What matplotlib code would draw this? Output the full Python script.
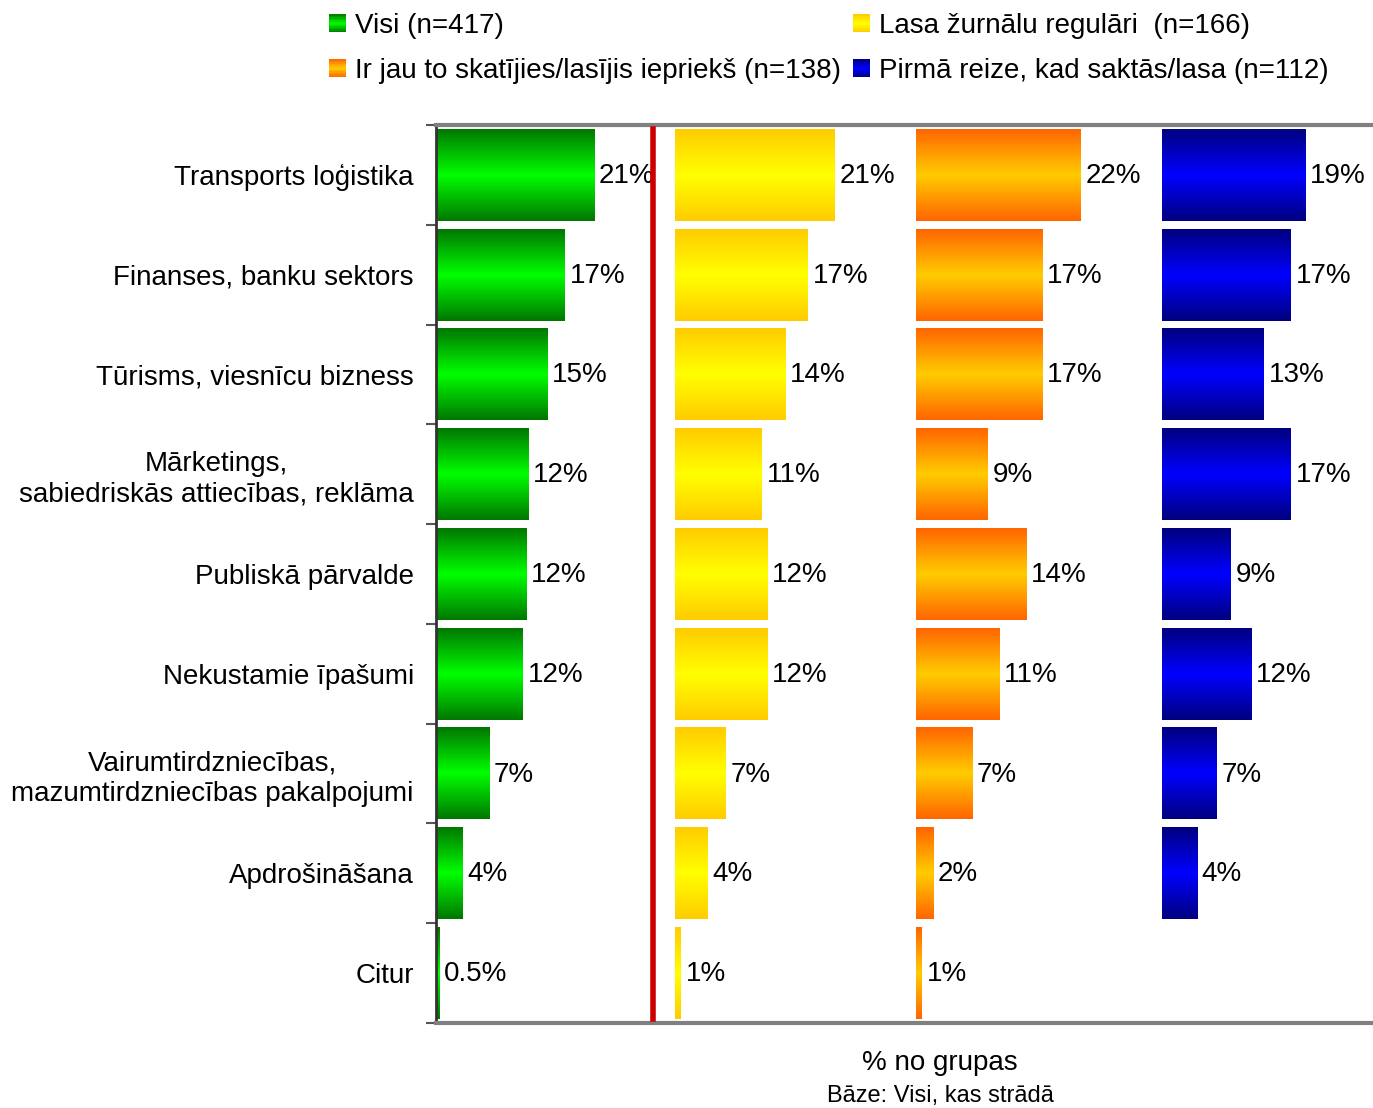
import matplotlib.pyplot as plt
import matplotlib.colors as mcolors
from matplotlib.patches import Patch, Rectangle
from matplotlib.legend_handler import HandlerBase
import numpy as np

plt.rcParams['font.family'] = ['Liberation Sans', 'DejaVu Sans']

# dati
kategorijas = ["Transports loģistika",
               "Finanses, banku sektors",
               "Tūrisms, viesnīcu bizness",
               "Mārketings,\nsabiedriskās attiecības, reklāma",
               "Publiskā pārvalde",
               "Nekustamie īpašumi",
               "Vairumtirdzniecības,\nmazumtirdzniecības pakalpojumi",
               "Apdrošināšana",
               "Citur"]

grupas = ["Visi (n=417)",
          "Lasa žurnālu regulāri  (n=166)",
          "Ir jau to skatījies/lasījis iepriekš (n=138)",
          "Pirmā reize, kad saktās/lasa (n=112)"]

visi = [21.1, 17.2, 14.9, 12.3, 12.1, 11.6, 7.1, 3.6, 0.5]
lasa = [21.3, 17.7, 14.7, 11.6, 12.3, 12.3, 6.8, 4.4, 0.8]
ir_jau = [22.0, 16.9, 16.9, 9.6, 14.7, 11.1, 7.5, 2.3, 0.8]
pirma = [19.1, 17.2, 13.6, 17.2, 9.2, 11.9, 7.3, 4.7, np.nan]

visi_txt = ["21%", "17%", "15%", "12%", "12%", "12%", "7%", "4%", "0.5%"]
lasa_txt = ["21%", "17%", "14%", "11%", "12%", "12%", "7%", "4%", "1%"]
ir_jau_txt = ["22%", "17%", "17%", "9%", "14%", "11%", "7%", "2%", "1%"]
pirma_txt = ["19%", "17%", "13%", "17%", "9%", "12%", "7%", "4%", ""]

serijas = [visi, lasa, ir_jau, pirma]
teksti = [visi_txt, lasa_txt, ir_jau_txt, pirma_txt]

# krāsas: mala, vidus
krasas = [("#007800", "#00FF00"),
          ("#FFCC00", "#FFFF00"),
          ("#FF6600", "#FFCC00"),
          ("#000080", "#0000FF")]
nobides = [0, 31.9, 64, 96.8]
FS = 20

cmaps = [mcolors.LinearSegmentedColormap.from_list("g%d" % i, [a, b, a])
         for i, (a, b) in enumerate(krasas)]

fig = plt.figure(figsize=(13.73, 11.08), dpi=100)
ax = fig.add_axes([436/1373, 1-1023/1108, 1-436/1373, (1023-125)/1108])

y = np.arange(len(kategorijas))
grad = np.linspace(0, 1, 100).reshape(-1, 1)

for s, vals in enumerate(serijas):
    bars = ax.barh(y, vals, height=0.92, left=nobides[s], color='none')
    for b, txt in zip(bars, teksti[s]):
        w = b.get_width()
        if np.isnan(w):
            continue
        x0, y0 = b.get_x(), b.get_y()
        h = b.get_height()
        ax.imshow(grad, cmap=cmaps[s], aspect='auto', interpolation='bicubic',
                  extent=(x0, x0 + w, y0 + h, y0), zorder=2)
        ax.text(x0 + w + 0.6, y0 + h/2 + 0.01, txt, va='center', ha='left', fontsize=FS)

# sarkanā līnija
ax.axvline(28.9, ymin=0.004, ymax=0.996, color='#CC0000', lw=4, zorder=3)

ax.set_xlim(0, 937/7.5)
ax.set_ylim(8.5, -0.5)
ax.set_yticks(y)
ax.set_yticklabels(kategorijas, fontsize=FS, multialignment='center')
ax.set_yticks(np.arange(-0.5, 9, 1), minor=True)
ax.tick_params(axis='y', which='major', length=0, pad=16)
ax.tick_params(axis='y', which='minor', length=7, width=1.5, color='#555555', direction='out')
ax.set_xticks([])

for sp in ['top', 'bottom']:
    ax.spines[sp].set_color('#808080')
    ax.spines[sp].set_linewidth(3)
ax.spines['left'].set_color('#333333')
ax.spines['left'].set_linewidth(2)
ax.spines['right'].set_visible(False)


class GradHandler(HandlerBase):
    def __init__(self, cmap):
        super().__init__()
        self.cmap = cmap

    def create_artists(self, legend, orig_handle, xdescent, ydescent,
                       width, height, fontsize, trans):
        n = 12
        out = []
        for k in range(n):
            r = Rectangle((-xdescent, -ydescent + k*height/n), width, height/n + 0.3,
                          facecolor=self.cmap((k + 0.5)/n), lw=0, transform=trans)
            out.append(r)
        return out


handles = [Patch(label=g) for g in grupas]
hmap = {h: GradHandler(c) for h, c in zip(handles, cmaps)}
order = [0, 2, 1, 3]
fig.legend([handles[i] for i in order], [grupas[i] for i in order],
           handler_map=hmap, ncol=2, loc='upper left',
           bbox_to_anchor=(329/1373, 1 - 13/1108), frameon=False,
           fontsize=FS, handlelength=0.62, handleheight=0.62,
           handletextpad=0.3, columnspacing=0.45, labelspacing=0.68,
           borderpad=0, borderaxespad=0)

fig.text(940/1373, 1 - 1063/1108, "% no grupas", ha='center', va='center', fontsize=FS)
fig.text(940/1373, 1 - 1096/1108, "Bāze: Visi, kas strādā", ha='center', va='center', fontsize=17)

fig.savefig("out.png", dpi=100)
